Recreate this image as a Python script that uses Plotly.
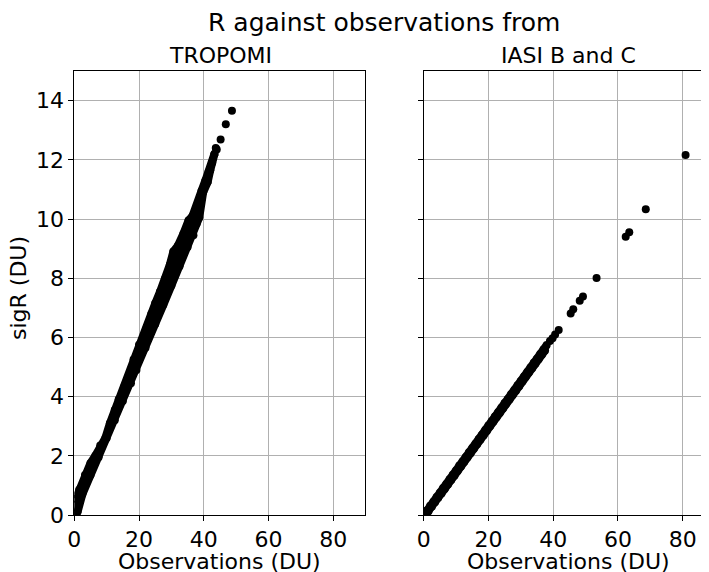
import plotly.graph_objects as go

# ---------------- data ----------------
# TROPOMI: dense band of points; upper/left edge and lower/right edge of the cloud
trop_upper_x = [0.5, 1.5, 3.3, 5.0, 6.5, 8.0, 9.6, 11.0, 12.5, 13.7, 15.5, 17.0, 18.3, 20.0,
                22.4, 23.8, 25.0, 26.5, 28.1, 29.5, 30.6, 32.0, 33.7, 35.3, 36.5, 38.5, 39.3,
                40.5, 41.5, 42.6, 43.3]
trop_upper_y = [0.55, 0.85, 1.35, 1.75, 2.0, 2.35, 2.6, 3.1, 3.55, 3.9, 4.35, 4.75, 5.25, 5.75,
                6.35, 6.8, 7.15, 7.55, 8.0, 8.45, 8.9, 9.1, 9.5, 9.95, 10.1, 10.6, 10.95,
                11.3, 11.6, 11.9, 12.2]
trop_lower_x = [1.0, 2.5, 5.0, 7.5, 10.0, 12.5, 15.0, 17.5, 19.2, 22.0, 25.0, 27.5, 30.0, 32.5,
                35.0, 36.8, 37.8, 38.6, 39.8, 41.2, 42.0, 43.3]
trop_lower_y = [0.1, 0.7, 1.35, 1.95, 2.6, 3.2, 3.85, 4.45, 4.9, 5.65, 6.45, 7.1, 7.75, 8.4,
                9.05, 9.45, 9.85, 10.05, 10.9, 11.25, 11.65, 12.2]
trop_sparse_x = [0.05, 0.3, 0.1, 43.7, 44.0, 45.2, 46.8, 48.7]
trop_sparse_y = [0.05, 0.1, 0.35, 12.4, 12.35, 12.69, 13.2, 13.66]

# IASI B and C: narrow line of points (two close rows) plus a few isolated high values
iasi_row1_x = [0, 1, 2, 3, 4, 5, 6, 7, 8, 9, 10, 11, 12, 13, 14, 15, 16, 17, 18, 19, 20,
               21, 22, 23, 24, 25, 26, 27, 28, 29, 30, 31, 32, 33, 34, 35, 36, 37, 38]
iasi_row1_y = [0.0, 0.15, 0.31, 0.45, 0.61, 0.75, 0.91, 1.05, 1.21, 1.36, 1.50, 1.67, 1.81,
               1.96, 2.12, 2.26, 2.41, 2.57, 2.71, 2.87, 3.02, 3.17, 3.33, 3.47, 3.62, 3.78,
               3.92, 4.08, 4.22, 4.38, 4.53, 4.68, 4.83, 4.98, 5.14, 5.28, 5.44, 5.59, 5.74]
iasi_row2_x = [0.5, 1.5, 2.5, 3.5, 4.5, 5.5, 6.5, 7.5, 8.5, 9.5, 10.5, 11.5, 12.5, 13.5, 14.5,
               15.5, 16.5, 17.5, 18.5, 19.5, 20.5, 21.5, 22.5, 23.5, 24.5, 25.5, 26.5, 27.5,
               28.5, 29.5, 30.5, 31.5, 32.5, 33.5, 34.5, 35.5, 36.5, 37.5]
iasi_row2_y = [0.0, 0.13, 0.28, 0.43, 0.58, 0.73, 0.88, 1.03, 1.18, 1.33, 1.49, 1.64, 1.79,
               1.94, 2.09, 2.24, 2.39, 2.54, 2.69, 2.84, 3.00, 3.15, 3.30, 3.45, 3.60, 3.75,
               3.90, 4.05, 4.20, 4.35, 4.51, 4.66, 4.81, 4.96, 5.11, 5.26, 5.41, 5.56]
iasi_sparse_x = [39.0, 39.8, 40.6, 41.7, 45.4, 46.2, 48.2, 49.2, 53.4, 62.4, 63.5, 68.6, 80.9]
iasi_sparse_y = [5.88, 5.97, 6.10, 6.25, 6.81, 6.95, 7.24, 7.38, 8.01, 9.40, 9.55, 10.33, 12.16]

x_ticks = [0, 20, 40, 60, 80]
y_ticks = [0, 2, 4, 6, 8, 10, 12, 14]

suptitle = "R against observations from"
panel_titles = ["TROPOMI", "IASI B and C"]
x_title = "Observations (DU)"
y_title = "sigR (DU)"

# ---------------- figure ----------------
# the page body has an 8 px margin, so the figure is laid out 8 px up/left
OFF = 8
W, H = 709 - OFF, 572 - OFF
FONT = "DejaVu Sans"
MS = 8
fig = go.Figure()

# dense interior of the TROPOMI cloud (between its edges)
poly_x = trop_upper_x + trop_lower_x[::-1]
poly_y = trop_upper_y + trop_lower_y[::-1]
fig.add_trace(go.Scatter(x=poly_x, y=poly_y, fill="toself", fillcolor="black",
                         mode="lines", line=dict(width=MS, color="black"),
                         hoverinfo="skip", showlegend=False, xaxis="x", yaxis="y"))
fig.add_trace(go.Scatter(x=trop_upper_x + trop_lower_x + trop_sparse_x,
                         y=trop_upper_y + trop_lower_y + trop_sparse_y,
                         mode="markers", marker=dict(size=MS, color="black"),
                         showlegend=False, xaxis="x", yaxis="y"))
# dense IASI points
for xs, ys in [(iasi_row1_x, iasi_row1_y), (iasi_row2_x, iasi_row2_y)]:
    fig.add_trace(go.Scatter(x=xs, y=ys, mode="lines+markers",
                             line=dict(width=MS, color="black"),
                             marker=dict(size=MS, color="black"),
                             showlegend=False, xaxis="x2", yaxis="y2"))
fig.add_trace(go.Scatter(x=iasi_sparse_x, y=iasi_sparse_y, mode="markers",
                         marker=dict(size=MS, color="black"),
                         showlegend=False, xaxis="x2", yaxis="y2"))

# reference pixel geometry (window coordinates)
left_px, right_px = 74.3, 365.0
left2_px = 423.7
top_px, bot_px = 71.0, 515.0
xmax = 89.8
px_per_unit = (right_px - left_px) / xmax


def fx(p):  # window px -> paper fraction
    return (p - OFF) / W


def fy(p):
    return 1 - (p - OFF) / H


axis_common = dict(
    showline=True, linecolor="black", linewidth=1,
    ticks="outside", ticklen=5, tickwidth=1, tickcolor="black",
    showgrid=True, gridcolor="#b0b0b0", gridwidth=1,
    zeroline=False, automargin=False,
    tickfont=dict(family=FONT, size=22, color="black"),
)

fig.update_layout(
    width=W, height=H,
    margin=dict(l=0, r=0, t=0, b=0, autoexpand=False),
    paper_bgcolor="white", plot_bgcolor="white",
    showlegend=False,
    xaxis=dict(domain=[fx(left_px), fx(right_px)], range=[0, xmax],
               tickvals=x_ticks, mirror=True, anchor="y", **axis_common),
    yaxis=dict(domain=[fy(bot_px), fy(top_px)], range=[0, 15],
               tickvals=y_ticks, mirror=True, anchor="x", **axis_common),
    xaxis2=dict(domain=[fx(left2_px), 1.0], range=[0, (709 - left2_px) / px_per_unit],
                tickvals=x_ticks, mirror=True, anchor="y2", **axis_common),
    yaxis2=dict(domain=[fy(bot_px), fy(top_px)], range=[0, 15],
                tickvals=y_ticks, mirror=False, anchor="x2", showticklabels=False,
                **axis_common),
)


def ann(text, xp, yp, size, angle=0):
    fig.add_annotation(text=text, x=fx(xp), y=fy(yp), xref="paper", yref="paper",
                       xanchor="center", yanchor="middle", showarrow=False,
                       textangle=angle, font=dict(family=FONT, size=size, color="black"))


ann(suptitle, 384, 23, 25)
ann(panel_titles[0], 220, 55, 22)
ann(panel_titles[1], 568, 55, 22)
ann(x_title, 219, 561, 22)
ann(x_title, 568, 561, 22)
ann(y_title, 18, 288, 22, angle=-90)

fig.write_html("out.html")
